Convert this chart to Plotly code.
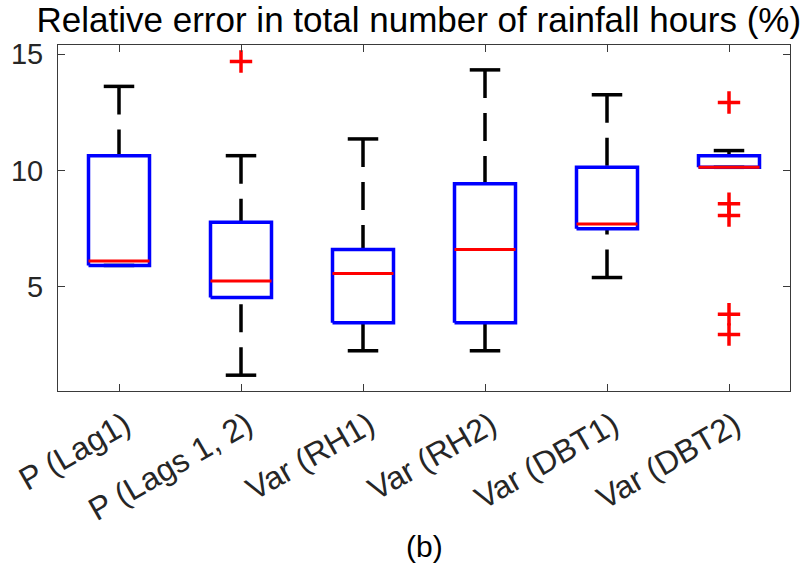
import plotly.graph_objects as go

categories = ["P (Lag1)", "P (Lags 1, 2)", "Var (RH1)", "Var (RH2)", "Var (DBT1)", "Var (DBT2)"]
lower_whisker = [5.92, 1.20, 2.25, 2.25, 5.40, 10.14]
q1 = [5.92, 4.54, 3.45, 3.45, 7.50, 10.14]
median = [6.11, 5.25, 5.57, 6.61, 7.70, 10.14]
q3 = [10.64, 7.78, 6.61, 9.43, 10.14, 10.64]
upper_whisker = [13.62, 10.64, 11.36, 14.33, 13.26, 10.86]
outliers = [[], [14.69], [], [], [], [12.93, 8.57, 8.07, 3.82, 2.95]]

BOX_HALF = 0.25
CAP_HALF = 0.125
FONT = "Liberation Sans, Arial, Helvetica, sans-serif"

fig = go.Figure()
xs = list(range(1, len(categories) + 1))

# whiskers (cap first so the dash pattern starts at the cap)
for x, lo, a, b, hi in zip(xs, lower_whisker, q1, q3, upper_whisker):
    for cap, edge in ((hi, b), (lo, a)):
        fig.add_trace(go.Scatter(x=[x, x], y=[cap, edge], mode="lines",
                                 line=dict(color="black", width=3.5, dash="28px,15px"),
                                 hoverinfo="skip", showlegend=False))
        fig.add_trace(go.Scatter(x=[x - CAP_HALF, x + CAP_HALF], y=[cap, cap], mode="lines",
                                 line=dict(color="black", width=3.5),
                                 hoverinfo="skip", showlegend=False))

# boxes
for x, a, b in zip(xs, q1, q3):
    fig.add_trace(go.Scatter(x=[x - BOX_HALF, x + BOX_HALF, x + BOX_HALF, x - BOX_HALF, x - BOX_HALF],
                             y=[a, a, b, b, a], mode="lines",
                             line=dict(color="#0000ff", width=3.5),
                             hoverinfo="skip", showlegend=False))

# medians
for x, m in zip(xs, median):
    fig.add_trace(go.Scatter(x=[x - BOX_HALF, x + BOX_HALF], y=[m, m], mode="lines",
                             line=dict(color="#ff0000", width=3),
                             hoverinfo="skip", showlegend=False))

# outliers
ox, oy = [], []
for x, outs in zip(xs, outliers):
    for v in outs:
        ox.append(x)
        oy.append(v)
fig.add_trace(go.Scatter(x=ox, y=oy, mode="markers",
                         marker=dict(symbol="cross-thin", size=16,
                                     line=dict(color="#ff0000", width=3.5)),
                         hoverinfo="skip", showlegend=False))

axis_common = dict(showline=True, linecolor="#3a3a3a", linewidth=1, mirror="ticks",
                   ticks="inside", ticklen=7, tickcolor="#3a3a3a", showgrid=False,
                   zeroline=False)

fig.update_layout(
    width=807, height=574,
    margin=dict(l=58, r=17, t=45, b=183),
    paper_bgcolor="white", plot_bgcolor="white",
    font=dict(family=FONT),
    title=dict(text="Relative error in total number of rainfall hours (%)",
               font=dict(family=FONT, size=35, color="black"),
               x=0.519, xanchor="center", y=1 - 20 / 574, yanchor="middle"),
    xaxis=dict(range=[0.5, 6.5], tickvals=xs, ticktext=categories, tickangle=-30,
               ticklabelstandoff=2, ticklabelshift=6,
               tickfont=dict(family=FONT, size=32, color="#262626"),
               **axis_common),
    yaxis=dict(range=[0.52, 15.4], tickvals=[5, 10, 15], ticklabelstandoff=8,
               tickfont=dict(family=FONT, size=29, color="#262626"),
               **axis_common),
    annotations=[dict(text="(b)", xref="paper", yref="paper", x=0.5, y=(391 - 546) / 346,
                      xanchor="center", yanchor="middle", showarrow=False,
                      font=dict(family=FONT, size=30, color="black"))],
)

fig.write_html("out.html")
